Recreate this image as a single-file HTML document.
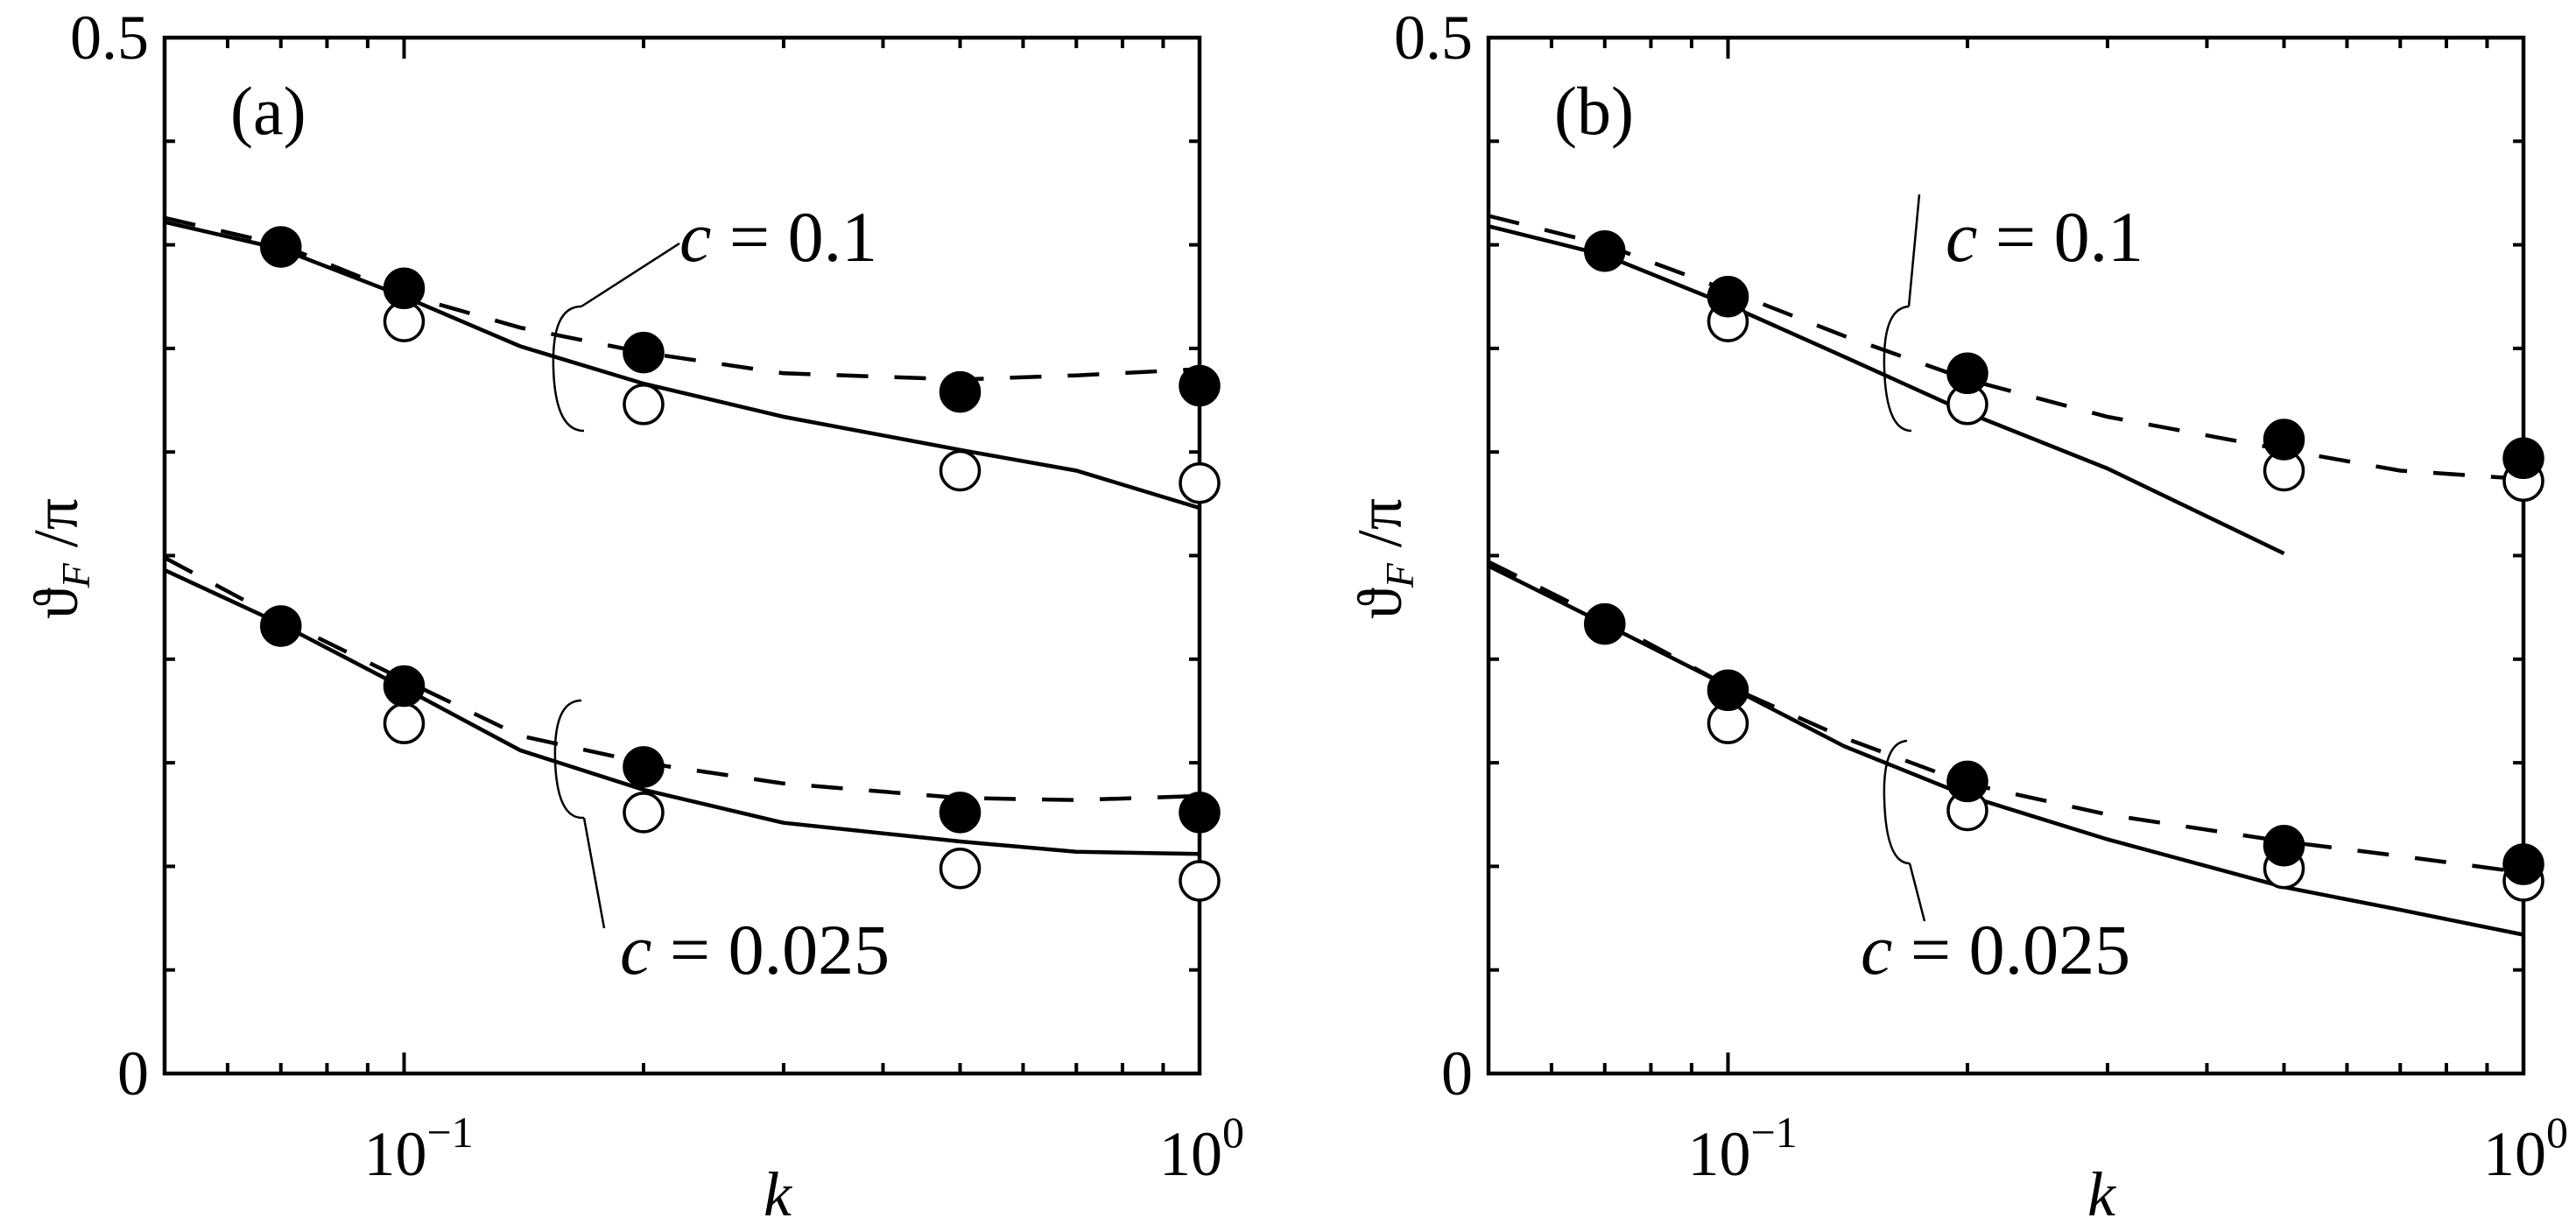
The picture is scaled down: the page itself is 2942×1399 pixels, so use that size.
<!DOCTYPE html>
<html><head><meta charset="utf-8">
<style>html,body{margin:0;padding:0;background:#fff}svg{display:block}svg text{font-family:"Liberation Serif","DejaVu Serif",serif;fill:#000}</style>
</head><body>
<svg id="chart" width="2942" height="1399" viewBox="0 0 2942 1399" xmlns="http://www.w3.org/2000/svg" font-family="Liberation Serif, DejaVu Serif, serif"></svg>
<script>
const kCurve = [0.05,0.07,0.1,0.14,0.2,0.3,0.5,0.7,1.0];
const kPts = [0.07,0.1,0.2,0.5,1.0];
const kOpen = [0.1,0.2,0.5,1.0];
const xTickLabels = ["10","10"];
const xTickExp = ["\u22121","0"];
const yTickLabels = ["0","0.5"];
// panel a
const aSolid01 = [0.411,0.398,0.375,0.351,0.333,0.317,0.301,0.291,0.273];
const aDash01  = [0.413,0.400,0.376,0.360,0.348,0.338,0.335,0.337,0.340];
const aFill01  = [0.399,0.379,0.348,0.329,0.332];
const aOpen01  = [0.363,0.323,0.291,0.285];
const aSolid025 = [0.243,0.217,0.186,0.156,0.137,0.121,0.112,0.107,0.106];
const aDash025  = [0.249,0.219,0.190,0.163,0.150,0.140,0.133,0.132,0.134];
const aFill025  = [0.216,0.187,0.148,0.126,0.126];
const aOpen025  = [0.169,0.126,0.099,0.093];
// panel b
const bSolid01 = [0.409,0.395,0.371,0.346,0.319,0.292,0.251];
const bDash01  = [0.414,0.400,0.378,0.356,0.335,0.317,0.301,0.291,0.287];
const bFill01  = [0.397,0.375,0.338,0.306,0.297];
const bOpen01  = [0.363,0.323,0.291,0.286];
const bSolid025 = [0.245,0.217,0.187,0.158,0.134,0.113,0.090,0.079,0.067];
const bDash025  = [0.247,0.219,0.187,0.162,0.140,0.125,0.112,0.105,0.097];
const bFill025  = [0.217,0.185,0.141,0.110,0.101];
const bOpen025  = [0.169,0.127,0.099,0.093];

const NS="http://www.w3.org/2000/svg";
const svg=document.getElementById('chart');
const TOP=43, BOT=1226, W=1182;
const FF='Liberation Serif, DejaVu Serif, serif';
function mk(tag,attrs,parent){const e=document.createElementNS(NS,tag);for(const k in attrs)e.setAttribute(k,attrs[k]);if(tag==='text')e.setAttribute('font-family',FF);(parent||svg).appendChild(e);return e;}
function panel(L,label,d,ann){
  const g=mk('g',{});
  
  
  const xs=k=>L+(Math.log10(k)-Math.log10(0.05))/Math.log10(20)*W;
  const ys=v=>BOT-(v/0.5)*(BOT-TOP);
  const R=L+W;
  const frame=mk('rect',{x:L,y:TOP,width:W,height:BOT-TOP,fill:'none',stroke:'#000','stroke-width':4.5},g);
  
  
  for(let i=1;i<10;i++){const y=ys(i*0.05);
    mk('line',{x1:L,y1:y,x2:L+12,y2:y,stroke:'#000','stroke-width':4},g);
    mk('line',{x1:R,y1:y,x2:R-12,y2:y,stroke:'#000','stroke-width':4},g);}
  const xt=[0.06,0.07,0.08,0.09,0.1,0.2,0.3,0.4,0.5,0.6,0.7,0.8,0.9];
  xt.forEach(k=>{const x=xs(k);const len=(k===0.1)?24:12;
    mk('line',{x1:x,y1:BOT,x2:x,y2:BOT-len,stroke:'#000','stroke-width':4},g);
    mk('line',{x1:x,y1:TOP,x2:x,y2:TOP+len,stroke:'#000','stroke-width':4},g);});
  const t0=mk('text',{x:L-18,y:BOT+24,'font-size':72,'text-anchor':'end'},g);t0.textContent=yTickLabels[0];
  
  const t1=mk('text',{x:L-18,y:TOP+24,'font-size':72,'text-anchor':'end'},g);t1.textContent=yTickLabels[1];
  
  [0.1,1.0].forEach((k,i)=>{const t=mk('text',{x:xs(k)-46,y:1342,'font-size':72},g);
    
    t.textContent=xTickLabels[i];
    const s=mk('tspan',{dy:-32,'font-size':50},t);s.textContent=xTickExp[i];});
  const kl=mk('text',{x:L+700,y:1388,'font-size':72,'font-style':'italic','text-anchor':'middle'},g);kl.textContent='k';
  
  const yl=mk('text',{x:0,y:0,'font-size':72,'text-anchor':'middle',transform:`translate(${L-100},638) rotate(-90)`},g);
  
  yl.textContent='\u03D1';const sb=mk('tspan',{'font-size':46,'font-style':'italic',dy:14},yl);sb.textContent='F';
  const sp=mk('tspan',{dy:-14},yl);sp.textContent=' /\u03C0';
  const pl=mk('text',{x:L+75,y:TOP+110,'font-size':78},g);pl.textContent='('+label+')';
  
  function line(arr,dash,name){const p=arr.map((v,i)=>`${xs(kCurve[i]).toFixed(1)},${ys(v).toFixed(1)}`).join(' ');
    const e=mk('polyline',{points:p,fill:'none',stroke:'#000','stroke-width':4.5,'stroke-dasharray':dash?'36 30':'none'},g);
    }
  function pts(ks,arr,filled,name){arr.forEach((v,i)=>{const c=mk('circle',{cx:xs(ks[i]),cy:ys(v),r:22,fill:filled?'#000':'#fff',stroke:'#000','stroke-width':3.5},g);
    });}
  line(d.s01,false,'solid-curve-c0.1');line(d.d01,true,'dashed-curve-c0.1');
  line(d.s025,false,'solid-curve-c0.025');line(d.d025,true,'dashed-curve-c0.025');
  pts(kOpen,d.o01,false,'open-marker-c0.1');pts(kPts,d.f01,true,'filled-marker-c0.1');
  pts(kOpen,d.o025,false,'open-marker-c0.025');pts(kPts,d.f025,true,'filled-marker-c0.025');
  ann.forEach(a=>{
    const br=mk('path',{d:a.br,fill:'none',stroke:'#000','stroke-width':2.5},g);
    
    const ld=mk('line',{x1:a.l[0],y1:a.l[1],x2:a.l[2],y2:a.l[3],stroke:'#000','stroke-width':2.5},g);
    
    const t=mk('text',{x:a.t[0],y:a.t[1],'font-size':82},g);
    
    const c=mk('tspan',{'font-style':'italic'},t);c.textContent='c';
    const r=mk('tspan',{},t);r.textContent=' = '+a.txt;});
}
panel(188,'a',{s01:aSolid01,d01:aDash01,f01:aFill01,o01:aOpen01,s025:aSolid025,d025:aDash025,f025:aFill025,o025:aOpen025},[
  {br:'M664,350 Q630,350 632,420 Q634,492 667,492',l:[664,350,776,278],t:[776,298],txt:'0.1'},
  {br:'M664,800 Q632,800 634,868 Q636,936 667,934',l:[667,934,690,1060],t:[708,1112],txt:'0.025'}]);
panel(1700,'b',{s01:bSolid01,d01:bDash01,f01:bFill01,o01:bOpen01,s025:bSolid025,d025:bDash025,f025:bFill025,o025:bOpen025},[
  {br:'M2180,350 Q2150,352 2152,420 Q2154,492 2183,492',l:[2180,350,2192,222],t:[2222,298],txt:'0.1'},
  {br:'M2178,846 Q2150,848 2152,912 Q2154,986 2181,986',l:[2181,986,2198,1052],t:[2125,1112],txt:'0.025'}]);
</script>
</body></html>
